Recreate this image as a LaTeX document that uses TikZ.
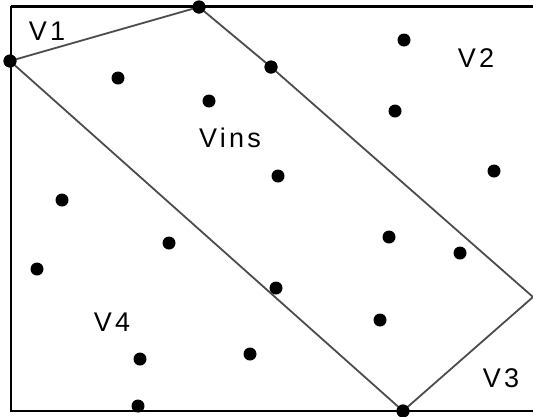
\documentclass[tikz,border=0pt]{standalone}
\usepackage{fontspec}
\setmainfont{Liberation Sans}
\begin{document}
\begin{tikzpicture}[x=1pt,y=-1pt,
  pt/.style={circle,fill=black,inner sep=0pt,minimum size=13pt},
  edge/.style={draw=black!70,line width=1.8pt},
  frame/.style={draw=black,line width=2.2pt},
  lab/.style={font=\fontsize{27}{27}\selectfont\addfontfeature{LetterSpace=12}}]
\useasboundingbox (0,0) rectangle (533,416);
% frame
\coordinate (fTR) at (534,6);
\coordinate (fTL) at (11,6);
\coordinate (fBL) at (11,411);
\coordinate (fBR) at (534,411);
\draw[frame] (fTL) -- (fBL) -- (fBR);
% vertices
\node[pt] (a) at (10,61) {};
\node[pt] (b) at (199,7) {};
\node[pt] (c) at (271,67) {};
\coordinate (d) at (533,297);
\node[pt] (e) at (403,411) {};
\draw[edge] (a.center) -- (b.center) -- (c.center) -- (d) -- (e.center) -- (a.center);
\draw[frame,line width=3pt] (fTL) -- (fTR);
\node[pt] at (10,61) {};
\node[pt] at (199,7) {};
\node[pt] at (271,67) {};
\node[pt] at (403,411) {};
% points
\node[pt] (p1) at (118,78) {};
\node[pt] (p2) at (209,101) {};
\node[pt] (p3) at (404,40) {};
\node[pt] (p4) at (395,111) {};
\node[pt] (p5) at (494,171) {};
\node[pt] (p6) at (278,176) {};
\node[pt] (p7) at (62,200) {};
\node[pt] (p8) at (169,243) {};
\node[pt] (p9) at (389,237) {};
\node[pt] (p10) at (460,253) {};
\node[pt] (p11) at (37,269) {};
\node[pt] (p12) at (276,288) {};
\node[pt] (p13) at (380,320) {};
\node[pt] (p14) at (250,354) {};
\node[pt] (p15) at (140,359) {};
\node[pt] (p16) at (138,406) {};
% labels
\node[lab] (l1) at (47,31) {V1};
\node[lab] (l2) at (476,58) {V2};
\node[lab] (l3) at (501,378) {V3};
\node[lab] (l4) at (112,322) {V4};
\node[lab] (l5) at (230,138) {Vins};
\end{tikzpicture}
\end{document}
